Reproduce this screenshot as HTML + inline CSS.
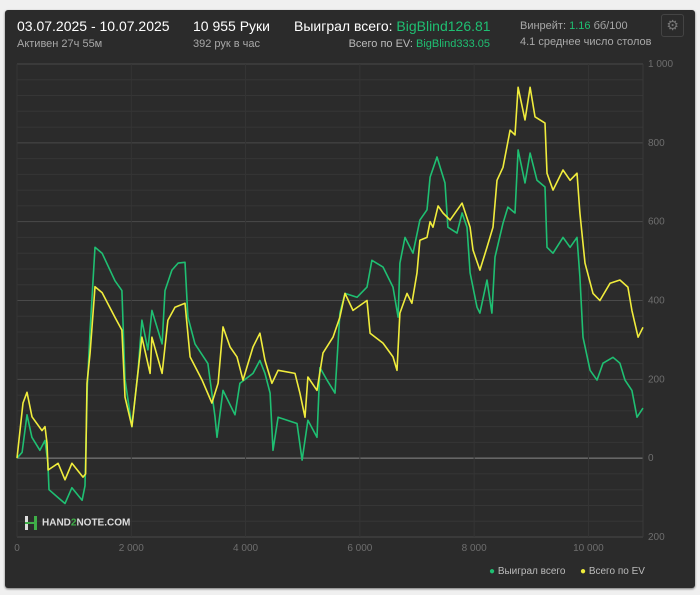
<!DOCTYPE html>
<html><head><meta charset="utf-8"><style>
body{margin:0;width:700px;height:595px;background:#f0f0f0;font-family:"Liberation Sans","DejaVu Sans",sans-serif;overflow:hidden;position:relative}
#card{position:absolute;left:5px;top:10px;width:690px;height:578px;background:#2b2b2b;border-radius:3px;box-shadow:0 1px 2px #0008}
.t{position:absolute;white-space:nowrap}
.big{font-size:14px;color:#fff}
.sm{font-size:11px;color:#a8a8a8}
.g{color:#1fbf72}
svg{position:absolute;left:0;top:0}
</style></head><body>
<div id="card"></div>
<div class="t big" style="left:17px;top:18px">03.07.2025 - 10.07.2025</div>
<div class="t sm" style="left:17px;top:38px">Активен 27ч 55м</div>
<div class="t big" style="left:193px;top:18px">10 955 Руки</div>
<div class="t sm" style="left:193px;top:38px">392 рук в час</div>
<div class="t big" style="left:294px;top:18px">Выиграл всего: <span class="g">BigBlind126.81</span></div>
<div class="t sm" style="right:210px;top:38px;color:#bbb">Всего по EV: <span class="g">BigBlind333.05</span></div>
<div class="t sm" style="left:520px;top:20px">Винрейт: <span class="g">1.16</span> бб/100</div>
<div class="t sm" style="left:520px;top:36px">4.1 среднее число столов</div>
<div class="t" style="left:661px;top:14px;width:21px;height:21px;border:1px solid #444;border-radius:3px;color:#777;font-size:14px;text-align:center;line-height:21px">⚙</div>
<svg id="chart" width="700" height="595"></svg>
<script>
const greenHands=[0,90,175,260,400,490,540,560,720,840,960,1140,1190,1230,1280,1365,1490,1715,1835,1890,2010,2120,2185,2290,2360,2540,2590,2710,2820,2940,2990,3115,3340,3465,3500,3605,3815,3900,4130,4250,4340,4430,4480,4570,4900,4990,5090,5250,5300,5425,5565,5650,5740,5950,6125,6210,6405,6580,6670,6700,6790,6930,7050,7175,7230,7350,7490,7540,7700,7790,7875,7930,8050,8100,8225,8310,8365,8505,8590,8715,8770,8890,8980,9100,9240,9275,9380,9555,9680,9800,9850,9905,10030,10150,10255,10430,10550,10640,10760,10850,10955];
const greenValues=[0,15,110,53,20,45,-13,-80,-100,-115,-75,-107,-70,180,325,535,520,450,425,200,80,223,350,275,375,290,425,477,495,497,358,290,240,105,53,172,110,190,215,248,215,165,20,104,88,-5,96,53,230,198,165,368,418,408,434,502,485,434,358,495,560,520,604,630,713,764,698,586,571,622,586,470,383,368,452,368,510,596,637,622,782,698,774,705,688,535,520,560,535,560,460,307,223,198,241,256,241,198,172,104,127];
const evHands=[0,105,175,263,438,490,525,545,720,840,960,1155,1200,1225,1280,1365,1490,1715,1835,1890,2010,2185,2330,2360,2540,2640,2765,2940,3030,3240,3410,3520,3605,3730,3850,3955,4130,4250,4340,4460,4570,4865,4950,5040,5090,5250,5355,5530,5650,5740,5880,6125,6180,6405,6580,6650,6700,6825,6910,7000,7050,7175,7230,7280,7370,7455,7580,7790,7930,7980,8100,8225,8330,8400,8505,8630,8715,8770,8890,8980,9065,9240,9275,9380,9555,9680,9800,9850,9940,10080,10200,10380,10550,10690,10760,10870,10955];
const evValues=[0,140,167,105,70,80,38,-30,-13,-55,-13,-48,-40,190,267,435,420,357,325,155,80,307,215,307,215,350,383,393,257,198,140,190,333,282,257,198,282,317,248,190,223,215,165,104,206,172,267,307,358,418,375,400,317,292,257,223,368,418,393,470,553,560,600,586,640,622,604,647,586,528,477,535,586,705,738,832,820,941,858,941,866,850,723,680,731,705,723,622,495,418,400,444,452,434,375,307,332];
const yTicks=[1000,800,600,400,200,0,-200];
const yTickLabels=["1 000","800","600","400","200","0","200"];
const xTicks=[0,2000,4000,6000,8000,10000];
const xTickLabels=["0","2 000","4 000","6 000","8 000","10 000"];
const X0=17,X1=643,Y0=64,Y1=537,XMAX=10955,VMIN=-200,VMAX=1000;
const sx=h=>X0+h/XMAX*(X1-X0);
const sy=v=>Y1-(v-VMIN)/(VMAX-VMIN)*(Y1-Y0);
const svg=document.getElementById('chart');const NS='http://www.w3.org/2000/svg';
function mk(tag,attrs){const e=document.createElementNS(NS,tag);for(const k in attrs)e.setAttribute(k,attrs[k]);svg.appendChild(e);return e;}
for(let v=VMIN;v<=VMAX;v+=40){const l=mk('line',{x1:X0,x2:X1,y1:sy(v),y2:sy(v),stroke:v%200===0?(v===0?'#8a8a8a':'#4a4a4a'):'#363636','stroke-width':1});

}
xTicks.forEach((h,i)=>{const l=mk('line',{x1:sx(h),x2:sx(h),y1:Y0,y2:Y1,stroke:'#353535'});


const t=mk('text',{x:sx(h),y:551,fill:'#6e6e6e','font-size':10,'text-anchor':'middle'});t.textContent=xTickLabels[i];

});
const bl=mk('line',{x1:X1,x2:X1,y1:Y0,y2:Y1,stroke:'#3a3a3a'});


yTicks.forEach((v,i)=>{const t=mk('text',{x:648,y:sy(v)+3,fill:'#6e6e6e','font-size':10});t.textContent=yTickLabels[i];

});
function line(hs,vs,color,name){const d=hs.map((h,i)=>(i?'L':'M')+sx(h).toFixed(1)+' '+sy(vs[i]).toFixed(1)).join(' ');
const p=mk('path',{d:d,fill:'none',stroke:color,'stroke-width':1.6,'stroke-linejoin':'round'});

}
line(greenHands,greenValues,'#1fbf72','won-total-line');
line(evHands,evValues,'#f0ec3c','ev-total-line');
</script>
<div class="t" style="left:24px;top:516px;font-size:10px;font-weight:bold;color:#ddd"><span style="display:inline-block;width:14px;height:14px;vertical-align:middle;position:relative;margin-right:4px"><span style="position:absolute;left:1px;top:0;width:3px;height:14px;background:#ddd"></span><span style="position:absolute;right:1px;top:0;width:3px;height:14px;background:#3fae48"></span><span style="position:absolute;left:1px;top:6px;width:12px;height:2px;background:#3fae48"></span></span>HAND<span style="color:#3fae48">2</span>NOTE.COM</div>
<div class="t sm" style="left:489px;top:566px;font-size:10px;color:#bbb"><span style="color:#1fbf72">●</span> Выиграл всего</div>
<div class="t sm" style="left:580px;top:566px;font-size:10px;color:#bbb"><span style="color:#f0ec3c">●</span> Всего по EV</div>
</body></html>
